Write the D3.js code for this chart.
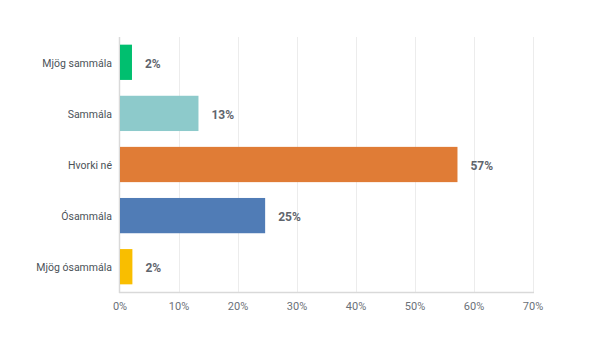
<!DOCTYPE html>
<html><head><meta charset="utf-8">
<script src="https://cdn.jsdelivr.net/npm/d3@7"></script>
<style>body{margin:0;background:#fff}svg{display:block}</style>
</head><body>
<svg id="c" width="600" height="356"></svg>
<script>
const categories = ["Mjög sammála","Sammála","Hvorki né","Ósammála","Mjög ósammála"];
const values = [2.03, 13.3, 57.2, 24.6, 2.1];
const valueLabels = ["2%","13%","57%","25%","2%"];
const colors = ["#00bf6f","#8dcacb","#e07c36","#507cb6","#f9be00"];
const ticks = [0,10,20,30,40,50,60,70];

const svg = d3.select("#c");
const x = d3.scaleLinear().domain([0,70]).range([120,533]);
const y = d3.scaleBand().domain(categories).range([37,292]).paddingInner(0.31).paddingOuter(0.15);
const font = "Roboto, 'Noto Sans', sans-serif";

// grid
svg.append("g").selectAll("line").data(ticks.slice(1)).join("line")
  .attr("x1",d=>x(d)+0.5).attr("x2",d=>x(d)+0.5).attr("y1",37).attr("y2",292)
  .attr("stroke","#ececec").attr("stroke-width",1);
// bottom axis line
svg.append("line").attr("x1",119).attr("x2",x(70)+1).attr("y1",292.5).attr("y2",292.5)
  .attr("stroke","#d9d9d9").attr("stroke-width",1.5);
// left axis line
svg.append("line").attr("x1",119.5).attr("x2",119.5).attr("y1",37).attr("y2",293)
  .attr("stroke","#d9d9d9").attr("stroke-width",1.5);

svg.append("g").selectAll("rect").data(values).join("rect")
  .attr("x",x(0)).attr("y",(d,i)=>y(categories[i]))
  .attr("width",d=>x(d)-x(0)).attr("height",y.bandwidth())
  .attr("fill",(d,i)=>colors[i]);

svg.append("g").selectAll("text").data(values).join("text")
  .attr("x",d=>x(d)+13).attr("y",(d,i)=>y(categories[i])+y.bandwidth()/2+1.5)
  .attr("dy","0.35em").attr("font-family",font).attr("font-size",12).attr("font-weight",700)
  .attr("fill","#5f656d").text((d,i)=>valueLabels[i]);

svg.append("g").selectAll("text").data(categories).join("text")
  .attr("x",112).attr("y",d=>y(d)+y.bandwidth()/2+1).attr("dy","0.35em")
  .attr("text-anchor","end").attr("font-family",font).attr("font-size",10.5)
  .attr("fill","#4b5258").text(d=>d);

svg.append("g").selectAll("text").data(ticks).join("text")
  .attr("x",d=>x(d)).attr("y",306.5).attr("dy","0.35em").attr("text-anchor","middle")
  .attr("font-family",font).attr("font-size",11).attr("fill","#6b7178").text(d=>d+"%");
</script>
</body></html>
